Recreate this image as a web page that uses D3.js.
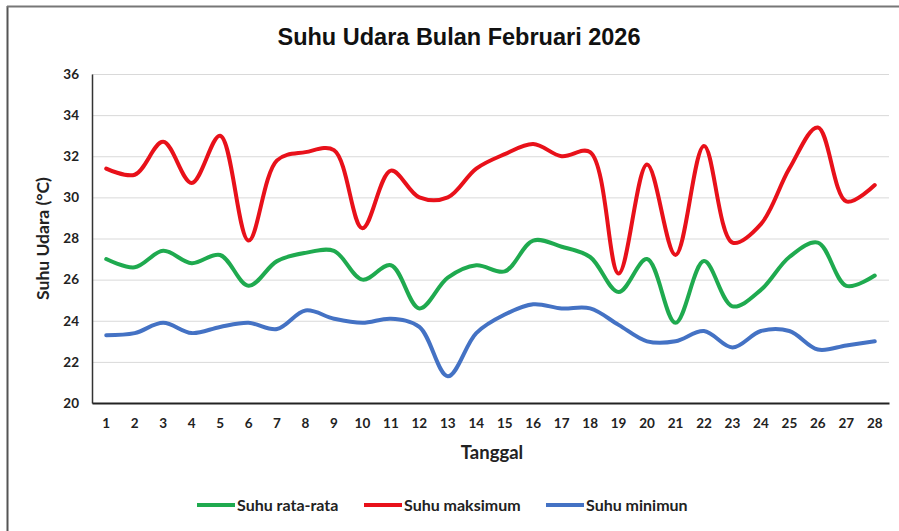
<!DOCTYPE html>
<html>
<meta charset="utf-8">
<title>Suhu Udara Bulan Februari 2026</title>
<style>
  html, body { margin: 0; padding: 0; background: #fff; }
  .tick text { font-family: Lato, "Open Sans", sans-serif; font-weight: bold; font-size: 13.5px; fill: #222; }
  .grid line { stroke: #d9d9d9; stroke-width: 1; }
  .series { fill: none; stroke-width: 4; stroke-linejoin: round; stroke-linecap: round; }
</style>
<body>
<div id="chart"></div>
<script src="https://d3js.org/d3.v7.min.js"></script>
<script>
// tanggal 1..28 Februari 2026
var days = d3.range(1, 29);

var rataRata = [27.0, 26.6, 27.4, 26.8, 27.2, 25.7, 26.9, 27.3, 27.4, 26.0,
                26.7, 24.6, 26.1, 26.7, 26.4, 27.9, 27.6, 27.1, 25.4, 27.0,
                23.9, 26.9, 24.7, 25.5, 27.1, 27.8, 25.7, 26.2];

var maksimum = [31.4, 31.1, 32.7, 30.7, 33.0, 27.9, 31.8, 32.2, 32.3, 28.5,
                31.3, 30.0, 30.0, 31.4, 32.1, 32.6, 32.0, 32.2, 26.3, 31.6,
                27.2, 32.5, 27.8, 28.7, 31.4, 33.4, 29.8, 30.6];

var minimum = [23.3, 23.4, 23.9, 23.4, 23.7, 23.9, 23.6, 24.5, 24.1, 23.9,
               24.1, 23.7, 21.3, 23.4, 24.3, 24.8, 24.6, 24.6, 23.8, 23.0,
               23.0, 23.5, 22.7, 23.5, 23.5, 22.6, 22.8, 23.0];

var yTicks = [20, 22, 24, 26, 28, 30, 32, 34, 36];

var series = [
    {name: "Suhu rata-rata", values: rataRata, color: "#1faa4f"},
    {name: "Suhu maksimum", values: maksimum, color: "#e8111a"},
    {name: "Suhu minimun", values: minimum, color: "#4472c4"}
];

var W = 899, H = 531;
var margin = {top: 74, right: 10, bottom: 128, left: 92};
var width = 889 - margin.left,
    height = 403 - margin.top;

var svg = d3.select("#chart").append("svg")
    .attr("width", W)
    .attr("height", H);

// chart frame (only left/top edges visible in the reference)
svg.append("line").attr("x1", 7.5).attr("x2", 7.5).attr("y1", 6).attr("y2", H)
    .attr("stroke", "#555").attr("stroke-width", 2);
svg.append("line").attr("x1", 7).attr("x2", W).attr("y1", 6.5).attr("y2", 6.5)
    .attr("stroke", "#777").attr("stroke-width", 2);

svg.append("text")
    .attr("x", 459)
    .attr("y", 45)
    .attr("text-anchor", "middle")
    .style("font-family", "'Liberation Sans', Arial, sans-serif")
    .style("font-weight", "bold")
    .style("font-size", "23.5px")
    .style("fill", "#111")
    .text("Suhu Udara Bulan Februari 2026");

var g = svg.append("g")
    .attr("transform", "translate(" + margin.left + "," + margin.top + ")");

var x = d3.scaleBand().domain(days).range([0, width]);
var y = d3.scaleLinear().domain([20, 36]).range([height, 0]);

g.append("g")
    .attr("class", "grid")
    .call(d3.axisLeft(y).tickValues(yTicks).tickSize(-width).tickFormat(""))
    .call(function(s) { s.select(".domain").remove(); });

var yAxis = g.append("g")
    .call(d3.axisLeft(y).tickValues(yTicks).tickSize(0).tickPadding(13));
yAxis.select(".domain").attr("stroke", "#333").attr("stroke-width", 1.5);

var xAxis = g.append("g")
    .attr("transform", "translate(0," + height + ")")
    .call(d3.axisBottom(x).tickSize(0).tickPadding(15));
xAxis.select(".domain").attr("stroke", "#222").attr("stroke-width", 2);

svg.append("text")
    .attr("transform", "translate(49," + (margin.top + height / 2) + ") rotate(-90)")
    .attr("text-anchor", "middle")
    .style("font-family", "Lato, 'Open Sans', sans-serif")
    .style("font-weight", "bold")
    .style("font-size", "17.5px")
    .style("fill", "#222")
    .text("Suhu Udara (°C)");

svg.append("text")
    .attr("x", 492)
    .attr("y", 459)
    .attr("text-anchor", "middle")
    .style("font-family", "Lato, 'Open Sans', sans-serif")
    .style("font-weight", "bold")
    .style("font-size", "18.5px")
    .style("fill", "#222")
    .text("Tanggal");

var line = d3.line()
    .x(function(d, i) { return x(days[i]) + x.bandwidth() / 2; })
    .y(function(d) { return y(d); })
    .curve(d3.curveCatmullRom.alpha(0.5));

g.selectAll(".series")
    .data([series[2], series[0], series[1]])
    .enter().append("path")
    .attr("class", "series")
    .attr("stroke", function(d) { return d.color; })
    .attr("d", function(d) { return line(d.values); });

// legend
var legendX = [197, 364, 546];
var legend = svg.selectAll(".legend")
    .data(series)
    .enter().append("g")
    .attr("class", "legend")
    .attr("transform", function(d, i) { return "translate(" + legendX[i] + ",505)"; });

legend.append("line")
    .attr("x1", 0).attr("x2", 38)
    .attr("stroke", function(d) { return d.color; })
    .attr("stroke-width", 4);

legend.append("text")
    .attr("x", 40)
    .attr("dy", "0.35em")
    .style("font-family", "Lato, 'Open Sans', sans-serif")
    .style("font-weight", "bold")
    .style("font-size", "16px")
    .style("fill", "#222")
    .text(function(d) { return d.name; });
</script>
</body>
</html>
